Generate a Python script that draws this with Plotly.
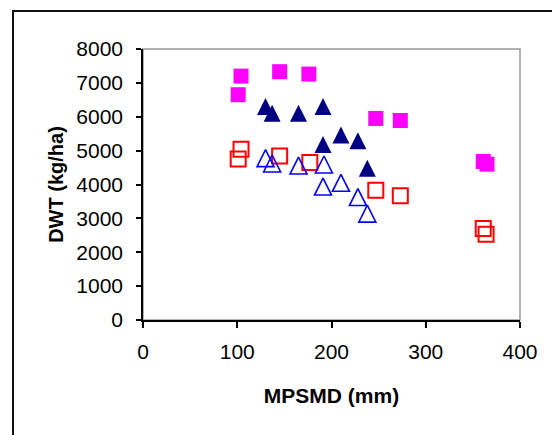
import plotly.graph_objects as go

# Data
mag_x = [104, 101, 145, 176, 247, 273, 361, 365]
mag_y = [7200, 6650, 7330, 7260, 5950, 5890, 4680, 4600]

navy_x = [130, 137, 165, 191, 191, 210, 228, 238]
navy_y = [6300, 6100, 6100, 6300, 5180, 5460, 5290, 4480]

blue_x = [130, 137, 165, 192, 191, 210, 228, 238]
blue_y = [4780, 4620, 4560, 4590, 3940, 4050, 3630, 3140]

red_x = [101, 104, 145, 177, 247, 273, 361, 364]
red_y = [4750, 5040, 4840, 4650, 3830, 3670, 2700, 2530]

x_ticks = [0, 100, 200, 300, 400]
y_ticks = [0, 1000, 2000, 3000, 4000, 5000, 6000, 7000, 8000]

FONT = "Arial, Liberation Sans, sans-serif"
W, H = 552, 435
L, R, T, B = 143, 32, 49, 115
Y_MAX = 8000
TRI = 17  # triangle marker size (px)

pw, ph = W - L - R, H - T - B
# "arrow-up" markers hang below their anchor by half their height; this
# hidden overlay axis re-centres them on the data value.
tri_off = (TRI / 2) / ph * Y_MAX

fig = go.Figure()
fig.add_trace(go.Scatter(x=mag_x, y=mag_y, mode="markers",
                         marker=dict(symbol="square", size=15, color="#FF00FF",
                                     line=dict(width=0))))
fig.add_trace(go.Scatter(x=navy_x, y=navy_y, mode="markers", yaxis="y3",
                         marker=dict(symbol="arrow-up", size=TRI, color="#000080",
                                     line=dict(width=0))))
fig.add_trace(go.Scatter(x=blue_x, y=blue_y, mode="markers", yaxis="y3",
                         marker=dict(symbol="arrow-up-open", size=TRI, color="#0000FF",
                                     line=dict(width=1.6, color="#0000FF"))))
fig.add_trace(go.Scatter(x=red_x, y=red_y, mode="markers",
                         marker=dict(symbol="square-open", size=15, color="#FF0000",
                                     line=dict(width=2, color="#FF0000"))))

def px_x(p):
    return (p - L) / pw
def px_y(p):
    return (H - B - p) / ph

shapes = [
    dict(type="rect", xref="paper", yref="paper",
         x0=px_x(13), x1=px_x(W + 10), y0=px_y(H + 10), y1=px_y(11),
         line=dict(color="#111111", width=2), layer="below"),
    dict(type="rect", xref="paper", yref="paper", x0=0, x1=1, y0=0, y1=1,
         line=dict(color="#999999", width=1.5), layer="below"),
]

fig.update_layout(
    width=W, height=H,
    margin=dict(l=L, r=R, t=T, b=B),
    paper_bgcolor="white", plot_bgcolor="white",
    showlegend=False,
    font=dict(family=FONT, color="black"),
    shapes=shapes,
    xaxis=dict(range=[0, 400], tickvals=x_ticks, ticks="outside", ticklen=6,
               tickwidth=1.5, tickcolor="black", showline=True, linecolor="black",
               linewidth=1.5, showgrid=False, zeroline=False,
               tickfont=dict(size=21, family=FONT), ticklabelstandoff=6,
               title=dict(text="<b>MPSMD (mm)</b>", font=dict(size=21, family=FONT),
                          standoff=26)),
    yaxis=dict(range=[0, Y_MAX], tickvals=y_ticks, ticks="outside", ticklen=5,
               tickwidth=1.5, tickcolor="black", showline=True, linecolor="black",
               linewidth=1.5, showgrid=False, zeroline=False,
               tickfont=dict(size=21, family=FONT), ticklabelstandoff=9,
               title=dict(text="<b>DWT (kg/ha)</b>", font=dict(size=20, family=FONT),
                          standoff=7)),
    yaxis2=dict(overlaying="y", matches="y", side="left", ticks="inside", ticklen=5,
                tickwidth=1.5, tickcolor="black", tickvals=y_ticks,
                showticklabels=False, showgrid=False, zeroline=False, showline=False),
    yaxis3=dict(overlaying="y", range=[-tri_off, Y_MAX - tri_off], visible=False,
                showgrid=False, zeroline=False),
)

fig.write_html("out.html", config={"displayModeBar": False},
               post_script="document.body.style.margin='0px';"
                           "document.body.style.overflow='hidden';")
